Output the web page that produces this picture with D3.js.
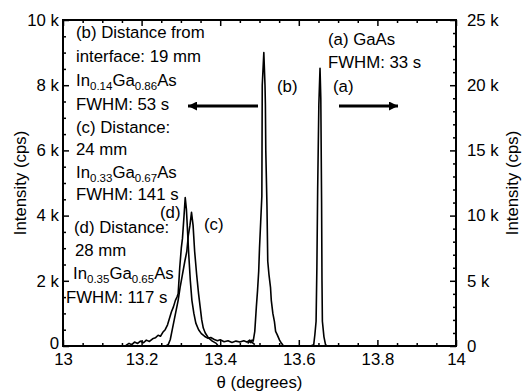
<!DOCTYPE html>
<html>
<head>
<meta charset="utf-8">
<script src="https://cdn.jsdelivr.net/npm/d3@7"></script>
<style>
  body { margin: 0; background: #fff; }
</style>
</head>
<body>
<svg id="svg"></svg>
<script>
// theta (deg), intensity (k cps)
// (a) GaAs substrate peak, read against the right axis
const scanA = [
  [13.630, 0.0], [13.638, 0.1], [13.641, 0.9], [13.644, 1.9], [13.646, 6.0],
  [13.648, 12.0], [13.651, 18.5], [13.654, 21.3], [13.656, 19.0], [13.658, 11.0],
  [13.659, 5.0], [13.660, 1.9], [13.664, 0.7], [13.668, 0.1], [13.672, 0.0]
];
// (b) 19 mm, left axis
const scanB = [
  [13.470, 0.08], [13.474, 0.14], [13.478, 0.10], [13.481, 0.18], [13.484, 0.15],
  [13.488, 0.45], [13.492, 1.2], [13.495, 1.7], [13.498, 2.3], [13.500, 3.0],
  [13.503, 3.8], [13.506, 4.6], [13.507, 8.0], [13.511, 9.0], [13.514, 8.0],
  [13.515, 7.4], [13.516, 6.0], [13.519, 4.3], [13.521, 2.6], [13.524, 2.2],
  [13.528, 1.8], [13.530, 1.4], [13.534, 1.0], [13.538, 0.75], [13.541, 0.45],
  [13.545, 0.35], [13.551, 0.18], [13.556, 0.08], [13.560, 0.03]
];
// (c) 24 mm, left axis
const scanC = [
  [13.262, 0.0], [13.268, 0.05], [13.273, 0.2], [13.278, 0.5], [13.283, 0.8],
  [13.288, 1.1], [13.293, 1.4], [13.298, 1.8], [13.304, 2.2], [13.310, 2.6],
  [13.315, 2.9], [13.319, 3.4], [13.323, 3.7], [13.327, 4.1], [13.331, 3.7],
  [13.335, 2.9], [13.340, 2.2], [13.345, 1.6], [13.349, 1.2], [13.353, 0.8],
  [13.357, 0.55], [13.362, 0.4], [13.370, 0.25], [13.380, 0.15], [13.390, 0.08],
  [13.395, 0.0]
];
// (d) 28 mm, left axis
const scanD = [
  [13.160, 0.02], [13.168, 0.08], [13.175, 0.04], [13.182, 0.12], [13.190, 0.08],
  [13.197, 0.15], [13.205, 0.10], [13.212, 0.18], [13.220, 0.14], [13.228, 0.22],
  [13.235, 0.25], [13.242, 0.33], [13.248, 0.30], [13.254, 0.42], [13.260, 0.50],
  [13.266, 0.65], [13.271, 0.85], [13.276, 1.05], [13.281, 1.2], [13.286, 1.4],
  [13.290, 1.5], [13.293, 1.6], [13.297, 2.4], [13.301, 3.0], [13.304, 3.3],
  [13.308, 4.0], [13.311, 4.55], [13.314, 4.2], [13.317, 3.5], [13.320, 2.8],
  [13.324, 2.0], [13.328, 1.4], [13.333, 1.0], [13.338, 0.7], [13.345, 0.5],
  [13.352, 0.38], [13.360, 0.30], [13.368, 0.24], [13.376, 0.26], [13.385, 0.20],
  [13.393, 0.16], [13.400, 0.19], [13.410, 0.13], [13.420, 0.16], [13.430, 0.11],
  [13.440, 0.15], [13.450, 0.12], [13.460, 0.16], [13.468, 0.12], [13.475, 0.18],
  [13.482, 0.10], [13.488, 0.04]
];

const xMajor = [13, 13.2, 13.4, 13.6, 13.8, 14];
const yLeftMajor = [0, 2, 4, 6, 8, 10];
const yRightMajor = [0, 5, 10, 15, 20, 25];

const notes = [
  { x: 76, y: 38, t: "(b) Distance from" },
  { x: 76, y: 62, t: "interface: 19 mm" },
  { x: 76, y: 86, t: ["In", "0.14", "Ga", "0.86", "As"] },
  { x: 76, y: 110, t: "FWHM: 53 s" },
  { x: 76, y: 133, t: "(c) Distance:" },
  { x: 76, y: 155, t: "24 mm" },
  { x: 76, y: 178, t: ["In", "0.33", "Ga", "0.67", "As"] },
  { x: 76, y: 200, t: "FWHM: 141 s" },
  { x: 74, y: 233, t: "(d) Distance:" },
  { x: 75, y: 256, t: "28 mm" },
  { x: 73, y: 279, t: ["In", "0.35", "Ga", "0.65", "As"] },
  { x: 66, y: 303, t: "FWHM: 117 s" },
  { x: 328, y: 45, t: "(a) GaAs" },
  { x: 328, y: 68, t: "FWHM: 33 s" },
  { x: 277, y: 92, t: "(b)" },
  { x: 333, y: 92, t: "(a)" },
  { x: 204, y: 230, t: "(c)" },
  { x: 160, y: 218, t: "(d)" }
];

const width = 526, height = 392;
const pLeft = 63, pRight = 456, pTop = 20, pBottom = 346;
const fs = 16.8;

const svg = d3.select("#svg")
  .attr("width", width)
  .attr("height", height)
  .attr("viewBox", [0, 0, width, height])
  .attr("font-family", "'Liberation Sans', Arial, sans-serif")
  .attr("font-size", fs);

const x = d3.scaleLinear([13, 14], [pLeft, pRight]);
const yL = d3.scaleLinear([0, 10], [pBottom, pTop]);
const yR = d3.scaleLinear([0, 25], [pBottom, pTop]);

const xMinor = d3.range(13, 14.001, 0.05).filter(v => !xMajor.some(m => Math.abs(m - v) < 1e-6));
const yLMinor = d3.range(0, 10.001, 0.5).filter(v => v % 2 !== 0);
const yRMinor = d3.range(0, 25.001, 1).filter(v => v % 5 !== 0);

function styleAxis(g) {
  g.select(".domain").remove();
  g.selectAll("line").attr("stroke", "#000").attr("stroke-width", 1.5);
  g.selectAll("text").attr("fill", "#000").attr("font-size", fs).attr("font-family", null);
}

const kfmt = v => v === 0 ? "0" : v + " k";

// bottom
svg.append("g").attr("transform", `translate(0,${pBottom})`)
  .call(d3.axisBottom(x).tickValues(xMinor).tickSize(-3).tickFormat(""))
  .call(styleAxis);
svg.append("g").attr("transform", `translate(0,${pBottom})`)
  .call(d3.axisBottom(x).tickValues(xMajor).tickSize(-6).tickPadding(7).tickFormat(d3.format("")))
  .call(styleAxis);
// top
svg.append("g").attr("transform", `translate(0,${pTop})`)
  .call(d3.axisTop(x).tickValues(xMinor).tickSize(-3).tickFormat(""))
  .call(styleAxis);
svg.append("g").attr("transform", `translate(0,${pTop})`)
  .call(d3.axisTop(x).tickValues(xMajor).tickSize(-6).tickFormat(""))
  .call(styleAxis);
// left
svg.append("g").attr("transform", `translate(${pLeft},0)`)
  .call(d3.axisLeft(yL).tickValues(yLMinor).tickSize(-3).tickFormat(""))
  .call(styleAxis);
svg.append("g").attr("transform", `translate(${pLeft},0)`)
  .call(d3.axisLeft(yL).tickValues(yLeftMajor).tickSize(-6).tickPadding(4).tickFormat(kfmt))
  .call(styleAxis)
  .call(g => g.selectAll("text").filter(d => d === 0).attr("dy", "0.15em"));
// right
svg.append("g").attr("transform", `translate(${pRight},0)`)
  .call(d3.axisRight(yR).tickValues(yRMinor).tickSize(-3).tickFormat(""))
  .call(styleAxis);
svg.append("g").attr("transform", `translate(${pRight},0)`)
  .call(d3.axisRight(yR).tickValues(yRightMajor).tickSize(-6).tickPadding(11).tickFormat(kfmt))
  .call(styleAxis);

svg.append("rect")
  .attr("x", pLeft).attr("y", pTop)
  .attr("width", pRight - pLeft).attr("height", pBottom - pTop)
  .attr("fill", "none").attr("stroke", "#000").attr("stroke-width", 2);

// curves
const lineL = d3.line().x(d => x(d[0])).y(d => yL(d[1]));
const lineR = d3.line().x(d => x(d[0])).y(d => yR(d[1]));
[scanD, scanC, scanB].forEach(s => {
  svg.append("path").datum(s)
    .attr("fill", "none").attr("stroke", "#000").attr("stroke-width", 1.6)
    .attr("stroke-linejoin", "round")
    .attr("d", lineL);
});
svg.append("path").datum(scanA)
  .attr("fill", "none").attr("stroke", "#000").attr("stroke-width", 1.6)
  .attr("stroke-linejoin", "round")
  .attr("d", lineR);

// arrows
svg.append("defs").append("marker")
  .attr("id", "head")
  .attr("viewBox", "0 0 10 10")
  .attr("refX", 10).attr("refY", 5)
  .attr("markerUnits", "userSpaceOnUse")
  .attr("markerWidth", 17).attr("markerHeight", 9)
  .attr("orient", "auto")
  .append("path").attr("d", "M0,0L10,5L0,10Z").attr("fill", "#000");

svg.append("line")
  .attr("x1", 258).attr("y1", 106).attr("x2", 188).attr("y2", 106)
  .attr("stroke", "#000").attr("stroke-width", 3).attr("marker-end", "url(#head)");
svg.append("line")
  .attr("x1", 339).attr("y1", 106).attr("x2", 398).attr("y2", 106)
  .attr("stroke", "#000").attr("stroke-width", 3).attr("marker-end", "url(#head)");

// annotations
notes.forEach(n => {
  const t = svg.append("text").attr("x", n.x).attr("y", n.y).attr("fill", "#000");
  if (typeof n.t === "string") {
    t.text(n.t);
  } else {
    n.t.forEach((part, i) => {
      const sub = i % 2 === 1;
      t.append("tspan")
        .attr("font-size", sub ? 11.5 : fs)
        .attr("dy", sub ? 4 : (i > 0 ? -4 : 0))
        .text(part);
    });
  }
});

// axis titles
svg.append("text")
  .attr("x", (pLeft + pRight) / 2).attr("y", 388)
  .attr("text-anchor", "middle")
  .text("θ (degrees)");
svg.append("text")
  .attr("transform", `translate(26,${(pTop + pBottom) / 2}) rotate(-90)`)
  .attr("text-anchor", "middle")
  .text("Intensity (cps)");
svg.append("text")
  .attr("transform", `translate(518,${(pTop + pBottom) / 2}) rotate(-90)`)
  .attr("text-anchor", "middle")
  .text("Intensity (cps)");
</script>
</body>
</html>
